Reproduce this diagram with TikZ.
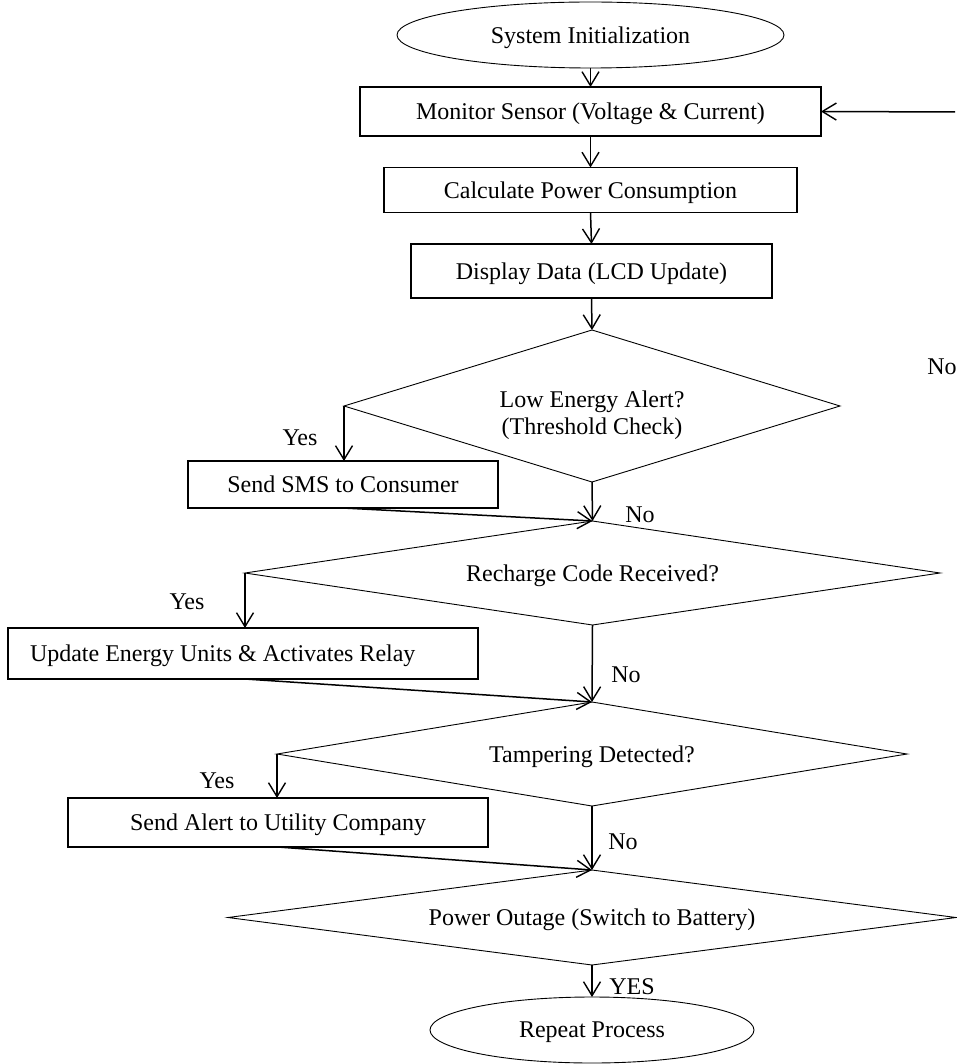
\documentclass[tikz,border=0pt]{standalone}
\usepackage{fontspec}
\setmainfont{Liberation Serif}
\usetikzlibrary{shapes.geometric,arrows.meta}
\begin{document}
\begin{tikzpicture}[x=1pt,y=-1pt,
  every node/.style={font=\fontsize{24}{27}\selectfont, inner sep=0pt, outer sep=0pt},
  boxnode/.style={draw, line width=1.1pt, rectangle, text depth=0pt},
  ellnode/.style={draw, line width=0.9pt, ellipse, text depth=0pt},
  decnode/.style={draw, line width=0.9pt, diamond, text depth=0pt},
  arr/.style={-{Straight Barb[length=14pt,width=17pt,line width=1.4pt]}, line width=1.5pt}]
\useasboundingbox (0,0) rectangle (957,1064);

% terminals
\node[ellnode, minimum width=387pt, minimum height=66pt] (start) at (590.5,35) {System Initialization};
\node[ellnode, minimum width=324pt, minimum height=66pt] (repeat) at (592,1030) {Repeat Process};

% process boxes
\node[boxnode, minimum width=461pt, minimum height=49pt] (mon) at (590.5,111.5) {Monitor Sensor (Voltage \& Current)};
\node[boxnode, minimum width=413pt, minimum height=45pt] (calc) at (590.5,190) {Calculate Power Consumption};
\node[boxnode, minimum width=361pt, minimum height=54pt] (disp) at (591.5,271) {Display Data (LCD Update)};
\node[boxnode, minimum width=310pt, minimum height=47pt] (sms) at (343,484.5) {Send SMS to Consumer};
\node[boxnode, minimum height=51pt, inner xsep=22pt] (upd) at (243,653.5) {\makebox[426pt][l]{Update Energy Units \& Activates Relay}};
\node[boxnode, minimum width=420pt, minimum height=49pt] (alert) at (278,822.5) {Send Alert to Utility Company};

% decisions
\node[decnode, aspect=3.26, minimum width=496pt, minimum height=152pt] (d1) at (592,406) {};
\node (d1t) at (592,415) [align=center] {Low Energy Alert?\\(Threshold Check)};
\node[decnode, aspect=6.7, minimum width=695pt, minimum height=104pt] (d2) at (592.5,573) {Recharge Code Received?};
\node[decnode, aspect=6.06, minimum width=630pt, minimum height=104pt] (d3) at (592,754) {Tampering Detected?};
\node[decnode, aspect=7.66, minimum width=728pt, minimum height=95pt] (d4) at (592,917.5) {Power Outage (Switch to Battery)};

% labels
\node (y1) at (300,438) {Yes};
\node (n1) at (640,515) {No};
\node (y2) at (187,602) {Yes};
\node (n2) at (626,675) {No};
\node (y3) at (217,781) {Yes};
\node (n3) at (623,842) {No};
\node (yes4) at (632,987) {YES};
\node (nr) at (942,367) {No};

% connectors
\coordinate (rin) at (955,112);
\draw[arr] (rin) -- (mon.east);
\draw[arr] (start.south) -- (mon.north);
\draw[arr] (mon.south) -- (calc.north);
\draw[arr] (calc.south) -- (disp.north);
\draw[arr] (disp.south) -- (d1.north);
\draw[arr] (d1.west) -- (d1.west |- sms.north);
\draw[arr] (d1.south) -- (d2.north);
\draw[arr] (sms.south) -- (d2.north);
\draw[arr] (d2.west) -- (d2.west |- upd.north);
\draw[arr] (d2.south) -- (d3.north);
\draw[arr] (d2.west |- upd.south) -- (d3.north);
\draw[arr] (d3.west) -- (d3.west |- alert.north);
\draw[arr] (d3.south) -- (d4.north);
\draw[arr] (alert.south) -- (d4.north);
\draw[arr] (d4.south) -- (repeat.north);
\end{tikzpicture}
\end{document}
